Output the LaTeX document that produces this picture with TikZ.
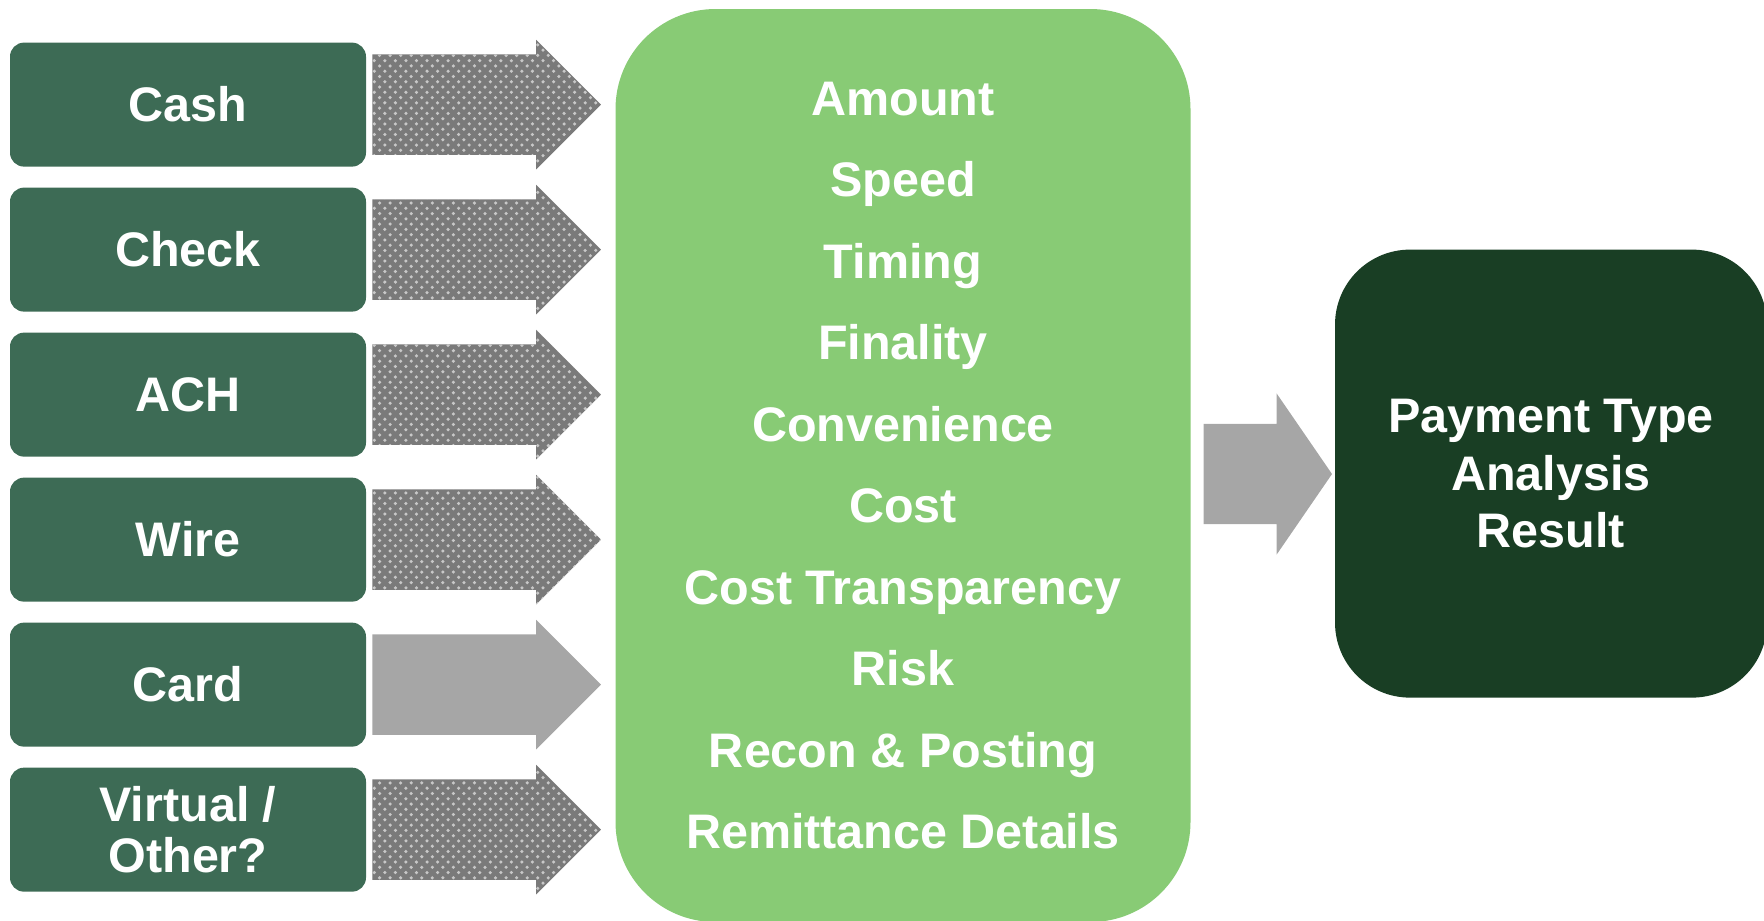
\documentclass[tikz,border=0pt]{standalone}
\usepackage{fontspec}
\setmainfont{Liberation Sans}
\usepackage{xcolor}
\usepackage{tikz}
\usetikzlibrary{shapes.arrows, positioning, patterns}

\definecolor{typegreen}{HTML}{3D6B55}
\definecolor{factorgreen}{HTML}{88CB75}
\definecolor{resultgreen}{HTML}{193E24}
\definecolor{arrowgray}{HTML}{A6A6A6}
\definecolor{dotgray}{HTML}{7A7A7A}
\definecolor{dotlight}{HTML}{C8C8C8}

\begin{document}
\begin{tikzpicture}[
    node distance=0.196cm and 0.05cm,
    paytype/.style={rectangle, fill=typegreen, rounded corners=0.14cm, align=center, minimum width=3.56cm, minimum height=1.24cm, text=white, font=\fontsize{13.8}{14.6}\selectfont\bfseries},
    flowarrow/.style={single arrow, fill=arrowgray, inner xsep=0pt, inner ysep=0.495cm, minimum height=2.285cm, single arrow head extend=0.145cm, single arrow tip angle=90},
    dotarrow/.style={flowarrow, fill=dotgray, postaction={pattern=crosshatch dots, pattern color=dotlight}},
    factors/.style={rectangle, fill=factorgreen, rounded corners=1.0cm, align=center, minimum width=5.75cm, minimum height=9.13cm, text=white, font=\fontsize{13.8}{23.2}\selectfont\bfseries},
    result/.style={rectangle, fill=resultgreen, rounded corners=0.75cm, align=center, minimum width=4.32cm, minimum height=4.48cm, text=white, font=\fontsize{13.8}{16.4}\selectfont\bfseries}
]
\useasboundingbox (0,0) rectangle (17.64,-9.20);
\clip (0,0) rectangle (17.64,-9.20);

% Payment types
\node (cash) [paytype] at (1.88,-1.046) {Cash};
\node (check) [paytype, below=of cash] {Check};
\node (ach) [paytype, below=of check] {ACH};
\node (wire) [paytype, below=of ach] {Wire};
\node (card) [paytype, below=of wire] {Card};
\node (other) [paytype, below=of card] {Virtual /\\Other?};

% Arrows into the factors
\node (cashin) [dotarrow, right=of cash] {};
\node (checkin) [dotarrow, right=of check] {};
\node (achin) [dotarrow, right=of ach] {};
\node (wirein) [dotarrow, right=of wire] {};
\node (cardin) [flowarrow, right=of card] {};
\node (otherin) [dotarrow, right=of other] {};

% Factors
\node (factors) [factors] at (9.03,-4.655) {Amount\\Speed\\Timing\\Finality\\Convenience\\Cost\\Cost Transparency\\Risk\\Recon \& Posting\\Remittance Details};

% Result
\node (toresult) [flowarrow, anchor=tail, minimum height=1.283cm, single arrow head extend=0.305cm, single arrow tip angle=111] at (12.03,-4.74) {};
\node (result) [result] at (15.51,-4.736) {Payment Type\\Analysis\\Result};

\end{tikzpicture}
\end{document}
